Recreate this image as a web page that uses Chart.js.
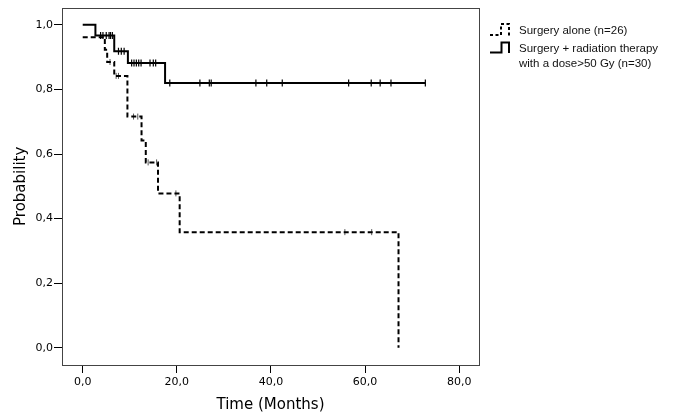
<!DOCTYPE html>
<html>
<head>
<meta charset="utf-8">
<script src="https://cdn.jsdelivr.net/npm/chart.js@4/dist/chart.umd.min.js"></script>
<style>
  html, body { margin: 0; padding: 0; background: #fff; }
  #wrap { width: 700px; height: 415px; }
</style>
</head>
<body>
<div id="wrap"><canvas id="kmChart"></canvas></div>
<script>
// Kaplan-Meier steps
const surgeryTimes = [0, 4.7, 5.2, 6.7, 9.5, 12.5, 13.4, 16.0, 20.6, 67.1];
const surgerySurv  = [0.962, 0.923, 0.885, 0.842, 0.716, 0.642, 0.574, 0.478, 0.358, 0.0];
const surgeryCensored = [5.8, 7.1, 7.6, 10.8, 11.7, 13.9, 15.7, 19.8, 55.7, 61.4];

const radiationTimes = [0, 2.7, 6.7, 9.6, 17.5, 72.8];
const radiationSurv  = [1.0, 0.967, 0.918, 0.882, 0.820, 0.820];
const radiationCensored = [3.8, 4.3, 5.0, 5.6, 5.9, 6.3, 7.6, 8.2, 8.8,
  10.4, 10.9, 11.4, 11.9, 12.4, 14.3, 15.0, 15.5,
  18.5, 24.9, 26.9, 27.3, 36.8, 39.1, 42.4, 56.5, 61.3, 63.2, 65.5, 72.8];

const xTicks = [0, 20, 40, 60, 80];
const yTicks = [0, 0.2, 0.4, 0.6, 0.8, 1.0];

const legendLabels = [
  ["Surgery alone (n=26)"],
  ["Surgery + radiation therapy", "with a dose>50 Gy (n=30)"]
];

function stepPoints(times, vals) {
  return times.map((t, i) => ({x: t, y: vals[i]}));
}

function survAt(times, vals, t) {
  let v = vals[0];
  for (let i = 0; i < times.length; i++) {
    if (times[i] <= t) v = vals[i];
  }
  return v;
}

function censorPoints(cens, times, vals) {
  return cens.map(t => ({x: t, y: survAt(times, vals, t)}));
}

function fmt(v) {
  return v.toFixed(1).replace('.', ',');
}

const boxPlugin = {
  id: 'boxPlugin',
  afterDraw(chart) {
    const ctx = chart.ctx;
    const a = chart.chartArea;
    ctx.save();
    ctx.strokeStyle = '#444';
    ctx.lineWidth = 1;
    ctx.strokeRect(Math.round(a.left) + 0.5, Math.round(a.top) + 0.5,
      Math.round(a.right - a.left), Math.round(a.bottom - a.top));

    // legend
    ctx.strokeStyle = '#000';
    ctx.lineWidth = 2;
    ctx.setLineDash([3, 2.5]);
    ctx.beginPath();
    ctx.moveTo(490, 35);
    ctx.lineTo(501, 35);
    ctx.lineTo(501, 24);
    ctx.lineTo(509, 24);
    ctx.lineTo(509, 36);
    ctx.stroke();
    ctx.setLineDash([]);
    ctx.beginPath();
    ctx.moveTo(490, 52.5);
    ctx.lineTo(501.5, 52.5);
    ctx.lineTo(501.5, 42.5);
    ctx.lineTo(509, 42.5);
    ctx.lineTo(509, 53);
    ctx.stroke();

    ctx.fillStyle = '#111';
    ctx.font = '11.5px "Liberation Sans", Arial, sans-serif';
    ctx.textBaseline = 'middle';
    ctx.textAlign = 'left';
    ctx.fillText(legendLabels[0][0], 519, 30.5);
    ctx.fillText(legendLabels[1][0], 519, 49);
    ctx.fillText(legendLabels[1][1], 519, 63.5);
    ctx.restore();
  }
};

const ctx = document.getElementById('kmChart');
new Chart(ctx, {
  type: 'scatter',
  data: {
    datasets: [
      {
        label: legendLabels[0][0],
        data: stepPoints(surgeryTimes, surgerySurv),
        showLine: true,
        stepped: 'before',
        borderColor: '#000',
        borderWidth: 2,
        borderDash: [5, 3],
        pointRadius: 0
      },
      {
        label: legendLabels[1].join(' '),
        data: stepPoints(radiationTimes, radiationSurv),
        showLine: true,
        stepped: 'before',
        borderColor: '#000',
        borderWidth: 2,
        pointRadius: 0
      },
      {
        label: 'censored 1',
        data: censorPoints(surgeryCensored, surgeryTimes, surgerySurv),
        showLine: false,
        pointStyle: 'line',
        rotation: 90,
        pointRadius: 3,
        borderColor: '#555',
        borderWidth: 1
      },
      {
        label: 'censored 2',
        data: censorPoints(radiationCensored, radiationTimes, radiationSurv),
        showLine: false,
        pointStyle: 'line',
        rotation: 90,
        pointRadius: 3.5,
        borderColor: '#000',
        borderWidth: 1.2
      }
    ]
  },
  options: {
    responsive: true,
    maintainAspectRatio: false,
    animation: false,
    layout: { padding: { top: 7, right: 221, left: 0, bottom: 0 } },
    plugins: {
      legend: { display: false },
      tooltip: { enabled: false }
    },
    scales: {
      x: {
        type: 'linear',
        min: -4.4,
        max: 84.2,
        afterBuildTicks: (s) => { s.ticks = xTicks.map(v => ({value: v})); },
        afterFit: (s) => { s.height = 50; },
        grid: { drawOnChartArea: false, drawTicks: true, tickLength: 8, color: '#000' },
        border: { display: false },
        ticks: {
          padding: 3,
          color: '#000',
          font: { family: 'DejaVu Sans', size: 11 },
          callback: (v) => fmt(v)
        },
        title: {
          display: true,
          text: 'Time (Months)',
          color: '#000',
          font: { family: 'DejaVu Sans', size: 15 },
          padding: { top: 0, bottom: 1 }
        }
      },
      y: {
        min: -0.0535,
        max: 1.0535,
        afterBuildTicks: (s) => { s.ticks = yTicks.map(v => ({value: v})); },
        afterFit: (s) => { s.width = 62; },
        grid: { drawOnChartArea: false, drawTicks: true, tickLength: 8, color: '#000' },
        border: { display: false },
        ticks: {
          padding: 1,
          color: '#000',
          font: { family: 'DejaVu Sans', size: 11 },
          callback: (v) => fmt(v)
        },
        title: {
          display: true,
          text: 'Probability',
          color: '#000',
          font: { family: 'DejaVu Sans', size: 15 },
          padding: { top: 12.5, bottom: 0 }
        }
      }
    }
  },
  plugins: [boxPlugin]
});
</script>
</body>
</html>
